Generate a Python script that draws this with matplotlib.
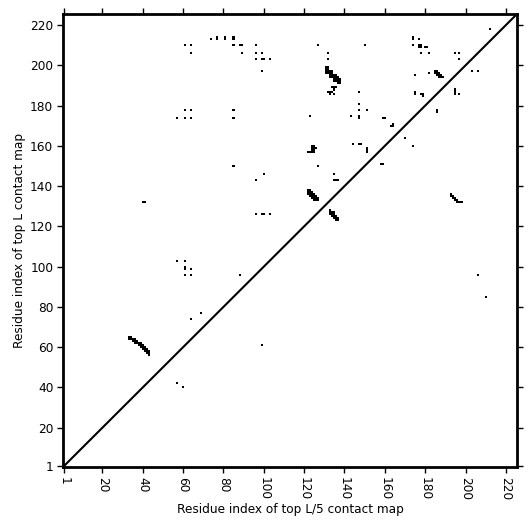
import numpy as np
import matplotlib
matplotlib.use("Agg")
import matplotlib.pyplot as plt

L = 225
tick_values = [1, 20, 40, 60, 80, 100, 120, 140, 160, 180, 200, 220]
x_label = "Residue index of top L/5 contact map"
y_label = "Residue index of top L contact map"

# contact segments: residue x, residue y from y0 to y1 (inclusive)
seg_x = [61, 64, 64, 74, 77, 81, 85, 85, 88, 89, 96, 127, 150,
         89, 96, 99, 132, 96, 99, 100, 103, 132, 99,
         131, 132, 133, 134, 135, 136, 137, 138,
         134, 135, 136, 135, 132, 133, 134, 133, 135,
         147, 147, 147, 151, 143, 147, 85, 85, 123,
         61, 64, 57, 61, 64,
         212, 174, 177, 174, 177, 178, 180, 181, 178, 182, 195, 197, 197, 203, 206,
         185, 186, 187, 188, 189,
         182, 175, 175, 175, 178, 179, 195, 197, 186, 159, 160, 163, 164, 170, 174, 158, 159,
         193, 194, 195, 196, 197, 198,
         144, 147, 148, 151,
         124, 125, 126, 122, 123, 124, 125,
         85, 100, 96, 127, 135, 135, 136, 137,
         122, 123, 124, 125, 126, 127,
         133, 134, 135, 136, 137,
         96, 99, 100, 103, 40, 41,
         57, 61, 61, 64, 61, 64, 88, 69, 64, 99, 57, 60, 206, 210,
         33, 34, 35, 36, 37, 38, 39, 40, 41, 42, 43]
seg_y0 = [210, 210, 206, 213, 213, 213, 213, 210, 210, 210, 210, 210, 210,
          206, 206, 206, 206, 203, 203, 203, 203, 203, 197,
          196, 196, 194, 194, 192, 192, 191, 191,
          189, 189, 189, 188, 187, 187, 187, 186, 186,
          187, 181, 178, 178, 175, 174, 178, 174, 175,
          178, 178, 174, 174, 174,
          218, 213, 213, 210, 209, 209, 209, 209, 206, 206, 206, 206, 203, 197, 197,
          196, 195, 194, 194, 194,
          196, 195, 187, 186, 186, 185, 186, 186, 177, 174, 174, 170, 170, 164, 160, 151, 151,
          135, 134, 133, 132, 132, 132,
          161, 161, 161, 157,
          158, 158, 159, 157, 157, 157, 157,
          150, 146, 143, 150, 146, 143, 143, 143,
          136, 135, 134, 133, 133, 133,
          126, 125, 124, 123, 123,
          126, 126, 126, 126, 132, 132,
          103, 103, 99, 99, 96, 96, 96, 77, 74, 61, 42, 40, 96, 85,
          64, 64, 63, 62, 62, 61, 60, 59, 58, 57, 56]
seg_y1 = [210, 210, 206, 213, 214, 214, 214, 210, 210, 210, 210, 210, 210,
          206, 206, 206, 206, 203, 203, 203, 203, 203, 197,
          199, 199, 197, 197, 195, 195, 194, 193,
          189, 189, 189, 188, 187, 187, 187, 186, 186,
          187, 181, 178, 178, 175, 175, 178, 174, 175,
          178, 178, 174, 174, 174,
          218, 214, 213, 210, 210, 210, 209, 209, 206, 206, 206, 206, 203, 197, 197,
          197, 197, 196, 195, 194,
          196, 195, 187, 186, 186, 186, 188, 186, 178, 174, 174, 170, 171, 164, 160, 151, 151,
          136, 135, 134, 133, 132, 132,
          161, 161, 161, 159,
          160, 160, 159, 157, 157, 157, 157,
          150, 146, 143, 150, 146, 143, 143, 143,
          138, 138, 137, 136, 135, 134,
          128, 127, 127, 125, 124,
          126, 126, 126, 126, 132, 132,
          103, 103, 100, 99, 96, 96, 96, 77, 74, 61, 42, 40, 96, 85,
          65, 65, 64, 64, 63, 62, 62, 61, 60, 59, 58]

M = np.zeros((L, L))
for x, a, b in zip(seg_x, seg_y0, seg_y1):
    M[a - 1:b, x - 1] = 1

fig = plt.figure(figsize=(5.31, 5.31), dpi=100)
ax = fig.add_axes([63 / 531, 64 / 531, 454 / 531, 453 / 531])
ax.imshow(M, cmap="binary", origin="lower", interpolation="nearest",
          extent=(0.5, L + 0.5, 0.5, L + 0.5), aspect="auto", vmin=0, vmax=1)
ax.plot([0.5, L + 0.5], [0.5, L + 0.5], color="black", lw=1.5)
ax.set_xlim(0.5, L + 0.5)
ax.set_ylim(0.5, L + 0.5)
ax.set_xticks(tick_values)
ax.set_yticks(tick_values)
ax.set_xticklabels([str(t) for t in tick_values], rotation=-90)
ax.tick_params(direction="out", length=4, width=1, top=True, right=True,
               labelsize=8.7, pad=3)
for s in ax.spines.values():
    s.set_linewidth(2)
ax.set_xlabel(x_label, fontsize=8.7, labelpad=2)
ax.set_ylabel(y_label, fontsize=8.7, labelpad=3)
fig.savefig("out.png", dpi=100)
